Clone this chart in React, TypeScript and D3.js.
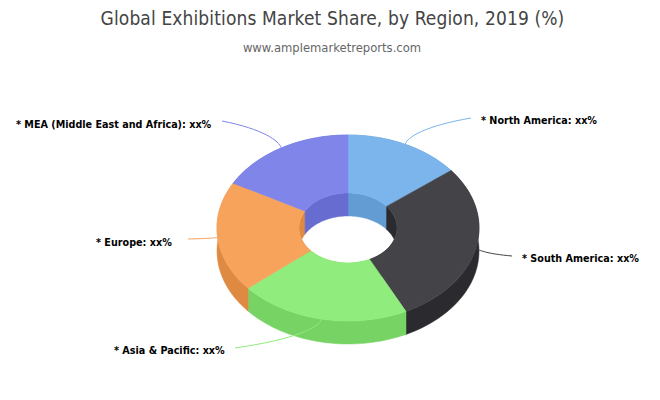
import React, { useRef, useEffect } from 'react';
import * as d3 from 'd3';

const titleText = 'Global Exhibitions Market Share, by Region, 2019 (%)';
const subtitleText = 'www.amplemarketreports.com';

// the labels themselves only say xx%
const regions = ['North America', 'South America', 'Asia & Pacific', 'Europe', 'MEA (Middle East and Africa)'];
const shares = [14.4, 28.3, 21.1, 19.2, 17.0];
const topColors = ['#7cb5ec', '#434348', '#90ed7d', '#f7a35c', '#8085e9'];
const sideColors = ['#639cd3', '#2a2a2f', '#77d464', '#de8a43', '#676cd0'];

const WIDTH = 660;
const HEIGHT = 400;
const cx = 348;
const cy = 228;
const rx = 131;
const ry = 93;
const innerRx = 49;
const innerRy = 35;
const depth = 23;

// where each label starts, same order as regions
const labelX = [481, 522, 114, 96, 16];
const labelY = [124, 262, 354, 246, 128];
// where the connector leaves off near the label
const lineEndX = [471, 512, 235, 188, 222];
const lineEndY = [118, 256, 348, 239, 121];

type Pt = [number, number];

const onEllipse = (a: number, ex: number, ey: number, dy = 0): Pt => [
    cx + ex * Math.sin(a),
    cy - ey * Math.cos(a) + dy,
];

const sweep = (a0: number, a1: number) => d3.range(0, 41).map(i => a0 + ((a1 - a0) * i) / 40);

const App: React.FC = () => {
    const ref = useRef<SVGSVGElement | null>(null);

    useEffect(() => {
        if (!ref.current) return;
        const svg = d3.select(ref.current);
        svg.selectAll('*').remove();

        const pie = d3.pie<number>().sort(null).value(d => d);
        const slices = pie(shares);
        const line = d3.line<Pt>().curve(d3.curveLinear);

        svg.append('text')
            .attr('x', 332.5).attr('y', 25)
            .attr('text-anchor', 'middle')
            .style('font-family', '"DejaVu Sans Condensed", "DejaVu Sans", sans-serif')
            .style('font-stretch', 'condensed')
            .style('font-size', '19px')
            .style('letter-spacing', '0.12px')
            .style('fill', '#444444')
            .text(titleText);

        svg.append('text')
            .attr('x', 332).attr('y', 52)
            .attr('text-anchor', 'middle')
            .style('font-family', '"DejaVu Sans", sans-serif')
            .style('font-size', '11.6px')
            .style('fill', '#666666')
            .text(subtitleText);

        // outer and inner walls first, the top faces cover whatever should not show
        const walls = svg.append('g');
        slices.forEach((s, i) => {
            const angles = sweep(s.startAngle, s.endAngle);
            [[rx, ry], [innerRx, innerRy]].forEach(([ex, ey]) => {
                const upper = angles.map(a => onEllipse(a, ex, ey));
                const lower = angles.map(a => onEllipse(a, ex, ey, depth)).reverse();
                walls.append('path')
                    .attr('d', line([...upper, ...lower]) + 'Z')
                    .attr('fill', sideColors[i])
                    .attr('stroke', sideColors[i])
                    .attr('stroke-width', 0.5);
            });
        });

        const faces = svg.append('g');
        slices.forEach((s, i) => {
            const angles = sweep(s.startAngle, s.endAngle);
            const outer = angles.map(a => onEllipse(a, rx, ry));
            const inner = angles.map(a => onEllipse(a, innerRx, innerRy)).reverse();
            faces.append('path')
                .attr('d', line([...outer, ...inner]) + 'Z')
                .attr('fill', topColors[i])
                .attr('stroke', topColors[i])
                .attr('stroke-width', 0.5);
        });

        // connectors start at the middle of each slice's outer rim
        const connectors = svg.append('g');
        slices.forEach((s, i) => {
            const mid = (s.startAngle + s.endAngle) / 2;
            const [x0, y0] = onEllipse(mid, rx, ry);
            const x1 = lineEndX[i];
            const y1 = lineEndY[i];
            const p = d3.path();
            p.moveTo(x0, y0);
            p.bezierCurveTo(x0 + Math.sin(mid) * 4, y0 - Math.cos(mid) * 8, x0 + (x1 - x0) * 0.3, y0 + (y1 - y0) * 0.7, x1, y1);
            connectors.append('path')
                .attr('d', p.toString())
                .attr('fill', 'none')
                .attr('stroke', topColors[i])
                .attr('stroke-width', 1);
        });

        const labels = svg.append('g');
        regions.forEach((name, i) => {
            labels.append('text')
                .attr('x', labelX[i])
                .attr('y', labelY[i])
                .style('font-family', '"DejaVu Sans Condensed", "DejaVu Sans", sans-serif')
                .style('font-stretch', 'condensed')
                .style('font-size', '10.7px')
                .style('font-weight', 700)
                .style('fill', '#000000')
                .text(`* ${name}: xx%`);
        });
    }, []);

    return (
        <svg
            ref={ref}
            width={WIDTH}
            height={HEIGHT}
            style={{ position: 'absolute', left: 0, top: 0, background: '#ffffff' }}
        />
    );
};

export default App;
